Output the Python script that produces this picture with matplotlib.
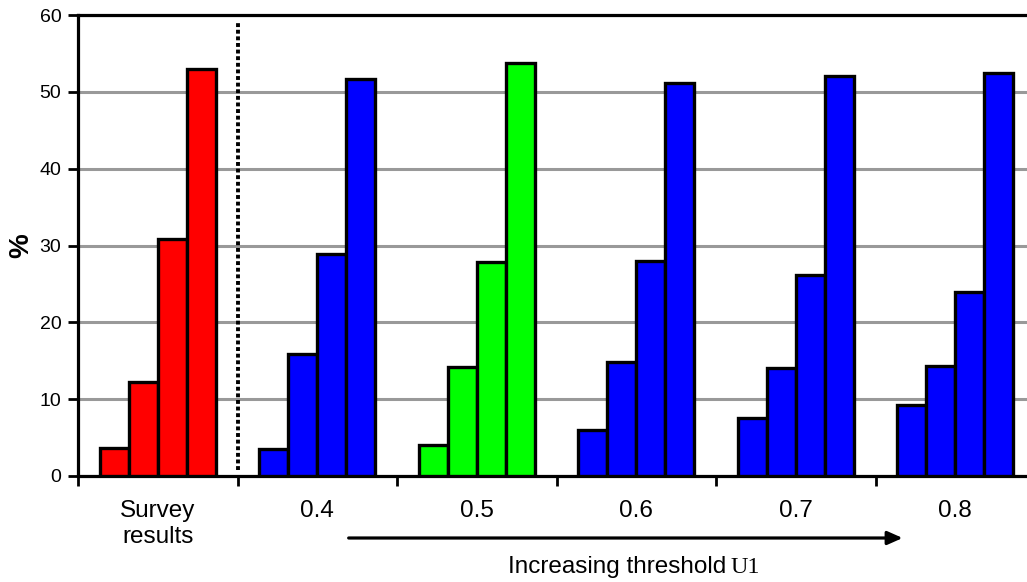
import matplotlib
matplotlib.use("Agg")
import matplotlib.pyplot as plt
import numpy as np
from matplotlib.transforms import blended_transform_factory

plt.rcParams['font.family'] = ['Liberation Sans', 'DejaVu Sans']

categories = ["Survey\nresults", "0.4", "0.5", "0.6", "0.7", "0.8"]
values = [
    [3.7, 12.2, 30.8, 53.0],
    [3.5, 15.9, 28.9, 51.7],
    [4.0, 14.2, 27.9, 53.8],
    [6.0, 14.9, 28.0, 51.1],
    [7.6, 14.1, 26.1, 52.1],
    [9.2, 14.3, 23.9, 52.5],
]
colors = ["#ff0000", "#0000ff", "#00ff00", "#0000ff", "#0000ff", "#0000ff"]
yticks = [0, 10, 20, 30, 40, 50, 60]

fig = plt.figure(figsize=(10.27, 5.82), dpi=100)
ax = fig.add_axes([78/1027, 1-476/582, 957/1027, 461/582])

w = 0.182
offsets = np.array([-1.5, -0.5, 0.5, 1.5]) * w
for i, (vals, c) in enumerate(zip(values, colors)):
    ax.bar(i + offsets, vals, width=w, color=c, edgecolor='black',
           linewidth=2.4, zorder=3)

ax.set_xlim(-0.5, len(categories) - 0.5)
ax.set_ylim(0, 60)
ax.set_yticks(yticks)
ax.set_yticklabels([str(v) for v in yticks], fontsize=14)
ax.set_xticks(range(len(categories)))
ax.set_xticklabels(categories, fontsize=17.5, linespacing=1.25)
ax.tick_params(axis='x', which='major', length=0, pad=17)
ax.set_xticks(np.arange(-0.5, len(categories), 1.0), minor=True)
ax.tick_params(axis='x', which='minor', length=7, width=2.0, direction='out')
ax.tick_params(axis='y', length=7, width=2.0, direction='out', pad=5)

ax.yaxis.grid(True, color='#999999', linewidth=2.2, zorder=0)
ax.set_axisbelow(True)
for s in ['left', 'top', 'bottom', 'right']:
    ax.spines[s].set_linewidth(2.3)

ax.set_ylabel('%', fontsize=20, fontweight='bold', labelpad=4)

# dotted separator
ax.plot([0.5, 0.5], [0.8, 59.0], color='black', linestyle=(0, (1.0, 0.7)),
        linewidth=2.8, zorder=4)

# arrow
trans = blended_transform_factory(ax.transData, ax.transAxes)
yarr = -(538 - 476) / 461
ax.annotate('', xy=(4.67, yarr), xytext=(1.197, yarr),
            xycoords=trans, textcoords=trans, annotation_clip=False,
            arrowprops=dict(arrowstyle='-|>,head_length=0.9,head_width=0.4',
                            color='black', lw=2.3, shrinkA=0, shrinkB=0))

fig.text(726/1027, 1-573/582, 'Increasing threshold', ha='right', va='baseline',
         fontsize=17.5)
fig.text(731/1027, 1-573/582, 'U1', ha='left', va='baseline', fontsize=17.5,
         family=['Liberation Serif', 'DejaVu Serif'])

fig.savefig('out.png', dpi=100)
